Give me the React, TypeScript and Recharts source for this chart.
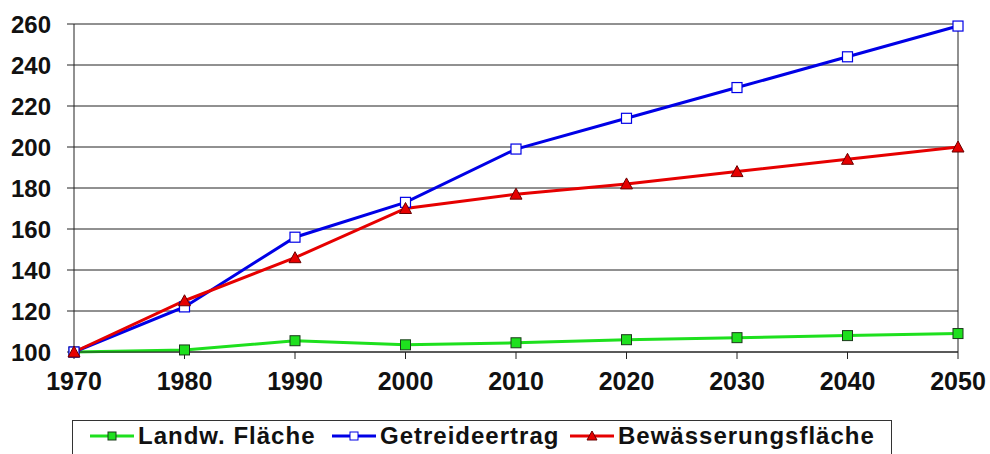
import { CartesianGrid, Line, LineChart, XAxis, YAxis } from 'recharts'

const years = ['1970', '1980', '1990', '2000', '2010', '2020', '2030', '2040', '2050']
const landwFlaeche = [100, 101, 105.5, 103.5, 104.5, 106, 107, 108, 109]
const getreideertrag = [100, 122, 156, 173, 199, 214, 229, 244, 259]
const bewaesserung = [100, 125, 146, 170, 177, 182, 188, 194, 200]
const yTicks = [100, 120, 140, 160, 180, 200, 220, 240, 260]

const data = years.map((year, i) => ({
  year,
  landw: landwFlaeche[i],
  getreide: getreideertrag[i],
  bewaesserung: bewaesserung[i],
}))

const FONT = '"Liberation Sans", Arial, sans-serif'
const GREEN = '#1ee01e'
const BLUE = '#0000e6'
const RED = '#e60000'

type DotProps = { cx?: number; cy?: number; index?: number }

const greenSquare = (p: DotProps) => (
  <rect key={`g${p.index}`} x={(p.cx ?? 0) - 5} y={(p.cy ?? 0) - 5} width={10} height={10} fill={GREEN} stroke="#1a3a1a" strokeWidth={1} />
)
const blueSquare = (p: DotProps) => (
  <rect key={`b${p.index}`} x={(p.cx ?? 0) - 5} y={(p.cy ?? 0) - 5} width={10} height={10} fill="#fff" stroke={BLUE} strokeWidth={1.2} />
)
const redTriangle = (p: DotProps) => {
  const x = p.cx ?? 0
  const y = p.cy ?? 0
  return <polygon key={`r${p.index}`} points={`${x},${y - 6} ${x + 6},${y + 5} ${x - 6},${y + 5}`} fill={RED} stroke="#6a0000" strokeWidth={1} />
}

function LegendItem({ color, kind, label, left }: { color: string; kind: 'g' | 'b' | 'r'; label: string; left: number }) {
  return (
    <div style={{ position: 'absolute', left, top: 3, display: 'flex', alignItems: 'center', whiteSpace: 'nowrap' }}>
      <svg width={44} height={14} style={{ marginRight: 4 }}>
        <line x1={0} y1={7} x2={44} y2={7} stroke={color} strokeWidth={3} />
        {kind === 'g' && <rect x={18} y={3} width={8} height={8} fill={GREEN} stroke="#1a3a1a" />}
        {kind === 'b' && <rect x={18} y={3} width={8} height={8} fill="#fff" stroke={BLUE} />}
        {kind === 'r' && <polygon points="22,2 27,11 17,11" fill={RED} stroke="#6a0000" />}
      </svg>
      <span>{label}</span>
    </div>
  )
}

export default function App() {
  const tickStyle = { fill: '#111', fontSize: 24, fontWeight: 700, fontFamily: FONT }
  return (
    <div style={{ position: 'absolute', left: 0, top: 0, width: 990, height: 454, background: '#fff', overflow: 'hidden' }}>
      <LineChart width={990} height={454} data={data} margin={{ top: 24, right: 0, left: 0, bottom: 0 }}>
        <CartesianGrid stroke="#222" strokeWidth={1} vertical={false} />
        <XAxis
          dataKey="year"
          height={102}
          tick={{ ...tickStyle, fontSize: 25 }}
          tickSize={7}
          tickMargin={13}
          axisLine={{ stroke: '#222' }}
          tickLine={{ stroke: '#222' }}
          interval={0}
        />
        <YAxis
          width={74}
          domain={[100, 260]}
          ticks={yTicks}
          tick={tickStyle}
          tickSize={7}
          tickMargin={16}
          axisLine={{ stroke: '#222' }}
          tickLine={{ stroke: '#222' }}
          interval={0}
        />
        <YAxis yAxisId="right" orientation="right" width={32} domain={[100, 260]} tick={false} tickLine={false} axisLine={{ stroke: '#222' }} />
        <Line dataKey="landw" stroke={GREEN} strokeWidth={3} dot={greenSquare} isAnimationActive={false} />
        <Line dataKey="getreide" stroke={BLUE} strokeWidth={3} dot={blueSquare} isAnimationActive={false} />
        <Line dataKey="bewaesserung" stroke={RED} strokeWidth={3} dot={redTriangle} isAnimationActive={false} />
      </LineChart>
      <div
        style={{
          position: 'absolute',
          left: 72,
          top: 420,
          width: 820,
          height: 44,
          border: '1.5px solid #333',
          boxSizing: 'border-box',
          fontFamily: FONT,
          fontWeight: 700,
          fontSize: 24,
          letterSpacing: 1,
          color: '#111',
          lineHeight: '24px',
        }}
      >
        <LegendItem color={GREEN} kind="g" label="Landw. Fläche" left={17} />
        <LegendItem color={BLUE} kind="b" label="Getreideertrag" left={259} />
        <LegendItem color={RED} kind="r" label="Bewässerungsfläche" left={497} />
      </div>
    </div>
  )
}
